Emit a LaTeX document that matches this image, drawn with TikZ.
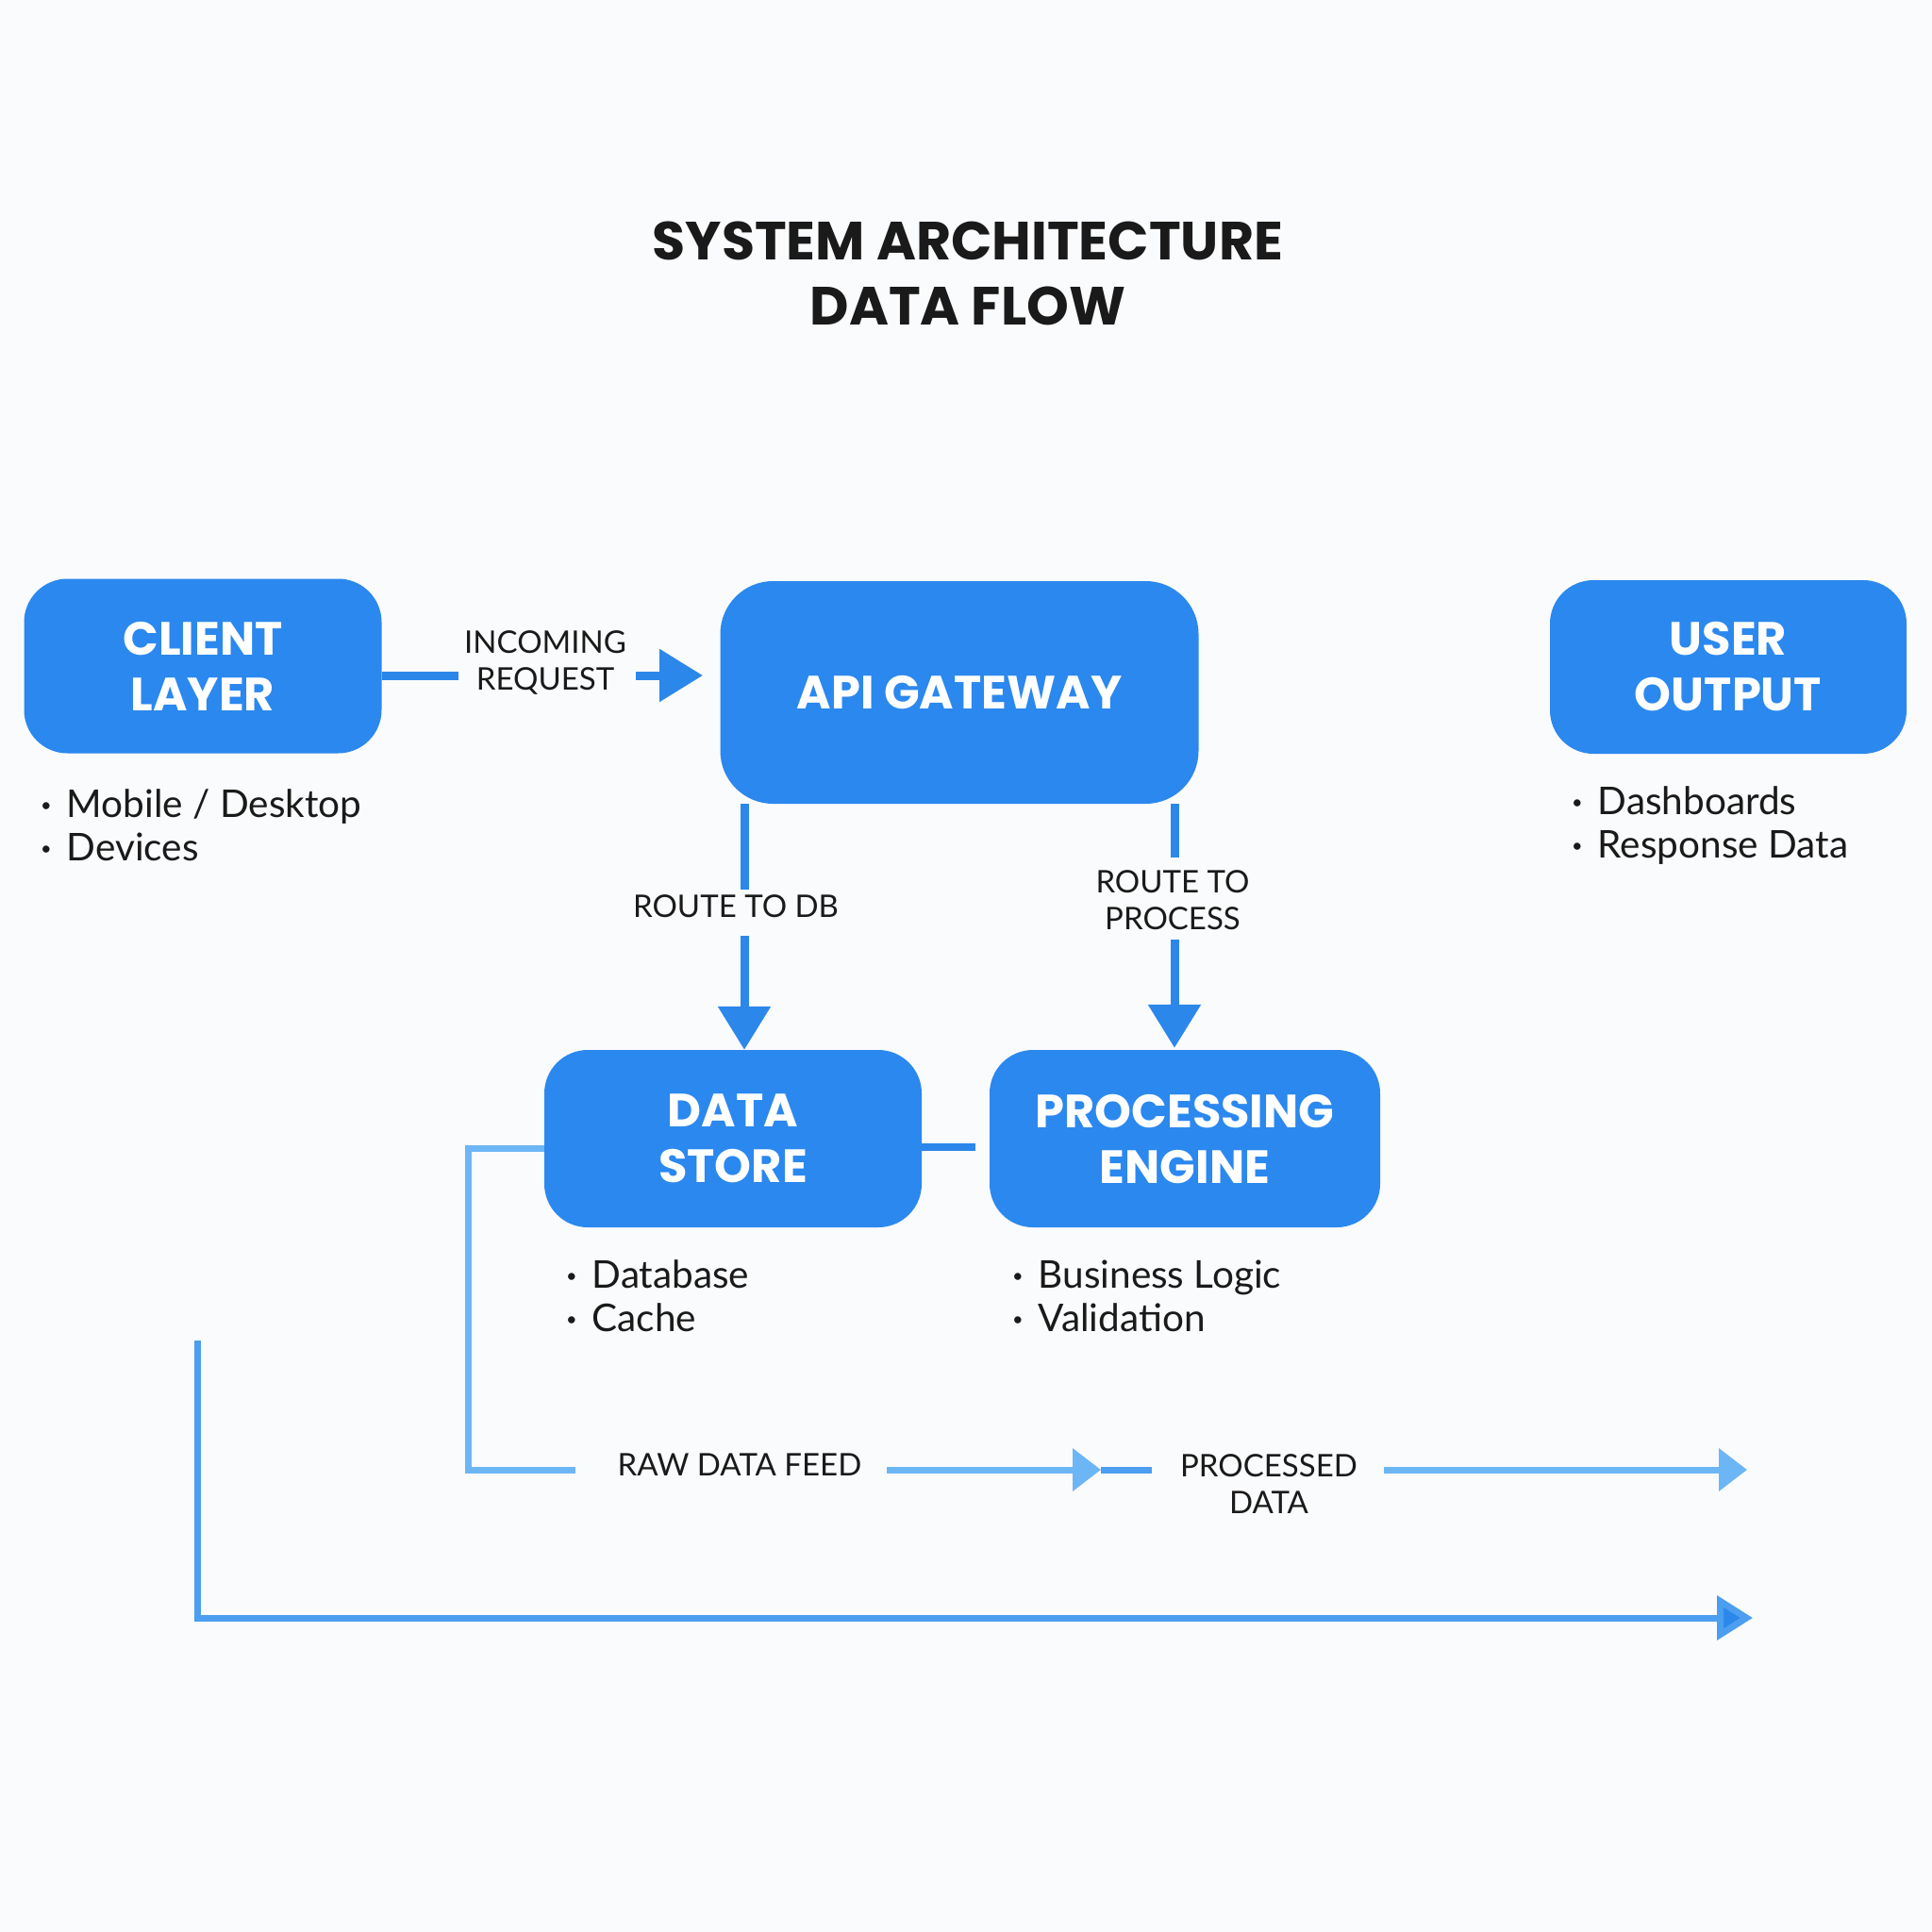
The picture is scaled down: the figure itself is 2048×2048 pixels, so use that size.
\documentclass[tikz,border=0pt]{standalone}
\usepackage{fontspec}
\setmainfont{Lato}
\newfontfamily\pop{Poppins}
\usetikzlibrary{arrows.meta}
\definecolor{boxblue}{HTML}{2B88EE}
\definecolor{lineblue}{HTML}{2C87EA}
\definecolor{lightblue}{HTML}{6DB6F6}
\definecolor{midblue}{HTML}{4B9EF0}
\definecolor{ink}{HTML}{1A1A1A}
\definecolor{bg}{HTML}{FAFBFC}
\newcommand\bul{\raisebox{6pt}{\fontsize{20}{20}\selectfont •}\hspace{16pt}}
\begin{document}
\begin{tikzpicture}[x=1pt,y=-1pt,
  box/.style={fill=boxblue, rounded corners=46pt, text=white,
    font=\pop\bfseries\fontsize{49.5}{59}\selectfont, align=center, inner sep=0pt},
  lbl/.style={text=ink, font=\fontsize{33}{39}\selectfont, align=center, inner sep=0pt},
  bullets/.style={text=ink, font=\fontsize{40.5}{46}\selectfont, align=left, inner sep=0pt, anchor=west},
  conn/.style={draw=lineblue, line width=9pt},
  connarrow/.style={conn, -{Triangle[width=54pt,length=46pt]}},
  feed/.style={draw=lightblue, line width=7pt},
  feedarrow/.style={feed, -{Triangle[width=44pt,length=30pt]}},
  bottomline/.style={draw=midblue, line width=7pt, -{Triangle[width=46pt,length=38pt,fill=lineblue]}}
]
\useasboundingbox[fill=bg] (0,0) rectangle (2048,2048);

% title
\node[text=ink, font=\pop\bfseries\fontsize{57}{69}\selectfont, align=center] (title) at (1026,290) {SYSTEM ARCHITECTURE\\DATA FLOW};

% boxes
\node[box, minimum width=379pt, minimum height=185pt] (client) at (215,706) {CLIENT\\LAYER};
\node[box, minimum width=507pt, minimum height=236pt, rounded corners=56pt] (api) at (1017,734) {API GATEWAY};
\node[box, minimum width=378pt, minimum height=184pt] (user) at (1832,707) {USER\\OUTPUT};
\node[box, minimum width=400pt, minimum height=188pt] (ds) at (777,1207) {DATA\\STORE};
\node[box, minimum width=414pt, minimum height=188pt] (pe) at (1256,1207) {PROCESSING\\ENGINE};

% bullet lists
\node[bullets] (clientlist) at (43,875) {\bul Mobile / Desktop\\\bul Devices};
\node[bullets] (userlist) at (1666,875) {\bul Dashboards\\\bul Response Data};
\node[bullets] (dslist) at (600,1374) {\bul Database\\\bul Cache};
\node[bullets] (pelist) at (1073,1374) {\bul Business Logic\\\bul Validation};

% labels
\node[lbl] (inc) at (578,702) {INCOMING\\REQUEST};
\node[lbl] (rdb) at (780,961) {ROUTE TO DB};
\node[lbl] (rpr) at (1243,954) {ROUTE TO\\PROCESS};
\node[lbl] (raw) at (784,1553) {RAW DATA FEED};
\node[lbl] (proc) at (1345,1573) {PROCESSED\\DATA};

% incoming request
\coordinate (inA) at (486,716);
\coordinate (inB) at (674,716);
\coordinate (inTip) at (745,716);
\draw[conn] (client.east |- inA) -- (inA);
\draw[connarrow] (inB) -- (inTip);

% route to db
\coordinate (rdbA) at (789,943);
\coordinate (rdbB) at (789,992);
\draw[conn] (api.south -| rdbA) -- (rdbA);
\draw[connarrow] (rdbB) -- (ds.north -| rdbB);

% route to process
\coordinate (rprA) at (1245,909);
\coordinate (rprB) at (1245,996);
\draw[conn] (api.south -| rprA) -- (rprA);
\draw[connarrow] (rprB) -- ([yshift=2pt]pe.north -| rprB);

% data store to processing engine
\coordinate (dpB) at (1034,1216);
\draw[conn, line width=8pt] (ds.east |- dpB) -- (dpB);

% raw data feed
\coordinate (rawA) at (610,1558);
\coordinate (rawB) at (940,1558);
\coordinate (rawTip) at (1167,1558);
\coordinate (procA) at (1221,1558);
\coordinate (procB) at (1467,1558);
\coordinate (procTip) at (1852,1558);
\draw[feed, line join=miter] ([yshift=-10pt]ds.west) -| (496,1558) -- (rawA);
\draw[feedarrow] (rawB) -- (rawTip);
\draw[draw=midblue, line width=7pt] (rawTip) -- (procA);
\draw[feedarrow] (procB) -- (procTip);

% bottom long arrow
\coordinate (botStart) at (209,1421);
\coordinate (botTip) at (1858,1715);
\draw[bottomline, line join=miter] (botStart) |- (botTip);
\end{tikzpicture}
\end{document}
